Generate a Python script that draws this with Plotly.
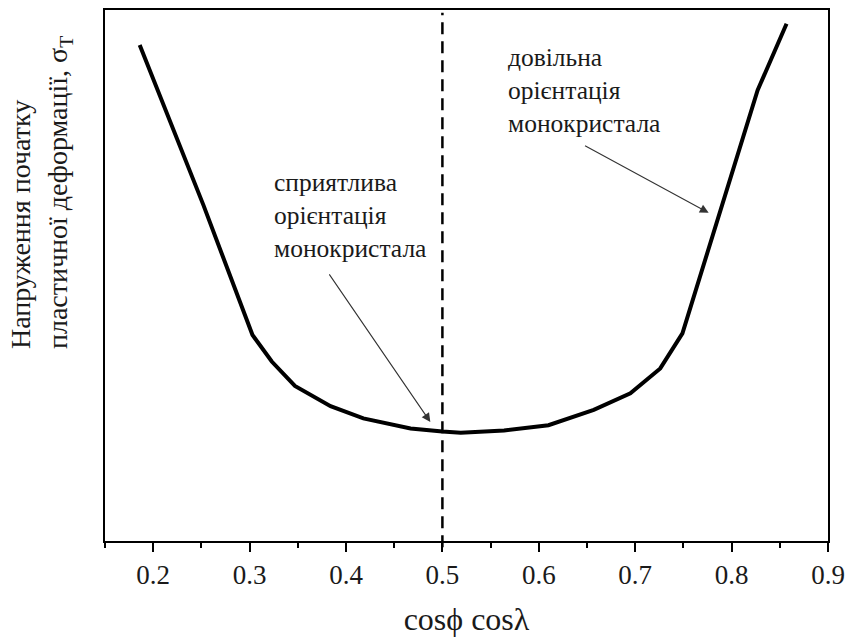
import plotly.graph_objects as go

# cosφ·cosλ (фактор Шміда) та напруження початку пластичної деформації (відн. од.)
schmid = [0.186, 0.252, 0.303, 0.323, 0.347, 0.384, 0.418, 0.467, 0.500,
          0.519, 0.564, 0.610, 0.657, 0.695, 0.726, 0.749, 0.827, 0.857]
sigma_t = [93.4, 63.3, 38.8, 33.8, 29.2, 25.4, 23.1, 21.2, 20.6,
           20.4, 20.8, 21.8, 24.7, 27.8, 32.5, 39.1, 84.9, 97.4]

x_ticks = [0.2, 0.3, 0.4, 0.5, 0.6, 0.7, 0.8, 0.9]
x_ticklabels = ["0.2", "0.3", "0.4", "0.5", "0.6", "0.7", "0.8", "0.9"]
x_mark = 0.5

FONT = "Liberation Serif"
INK = "#1a1a1a"

fig = go.Figure()

fig.add_trace(go.Scatter(
    x=schmid, y=sigma_t,
    mode="lines",
    line=dict(color="black", width=4),
    hoverinfo="skip",
    showlegend=False,
))

# вертикальна пунктирна лінія при cosφ cosλ = 0.5
fig.add_shape(
    type="line", xref="x", yref="paper",
    x0=x_mark, x1=x_mark, y0=-0.012, y1=0.995,
    line=dict(color="black", width=2.5, dash="12px,7px"),
)

ann_font = dict(family=FONT, size=25.5, color=INK)

fig.add_annotation(
    x=0.3234, y=61.3, xref="x", yref="y",
    text="сприятлива<br>орієнтація<br>монокристала",
    showarrow=False, xanchor="left", yanchor="middle", align="left",
    font=ann_font,
)
fig.add_annotation(
    x=0.4875, y=22.4, ax=0.3816, ay=50.5,
    xref="x", yref="y", axref="x", ayref="y",
    text="", showarrow=True, arrowhead=2, arrowsize=1.6,
    arrowwidth=1.1, arrowcolor="#333",
)

fig.add_annotation(
    x=0.5664, y=84.8, xref="x", yref="y",
    text="довільна<br>орієнтація<br>монокристала",
    showarrow=False, xanchor="left", yanchor="middle", align="left",
    font=ann_font,
)
fig.add_annotation(
    x=0.7762, y=61.8, ax=0.6464, ay=74.6,
    xref="x", yref="y", axref="x", ayref="y",
    text="", showarrow=True, arrowhead=2, arrowsize=1.6,
    arrowwidth=1.1, arrowcolor="#333",
)

# підпис осі Y (два рядки, вирівняні за початком)
fig.add_annotation(
    x=-0.089, y=0.358, xref="paper", yref="paper",
    text="Напруження початку<br>пластичної деформації, σ<sub>T</sub>",
    textangle=-90, showarrow=False,
    xanchor="center", yanchor="bottom", align="left",
    font=dict(family=FONT, size=28, color=INK),
)

fig.update_layout(
    width=847, height=639,
    margin=dict(l=105, r=19, t=10, b=98, autoexpand=False),
    paper_bgcolor="white", plot_bgcolor="white",
    font=dict(family=FONT, color=INK),
    xaxis=dict(
        range=[0.15, 0.9],
        automargin=False,
        tickvals=x_ticks, ticktext=x_ticklabels,
        ticks="outside", ticklen=9, tickwidth=2, tickcolor="black",
        minor=dict(dtick=0.05, ticks="outside", ticklen=5, tickwidth=2,
                   tickcolor="black", showgrid=False),
        showline=True, linecolor="black", linewidth=2, mirror=True,
        showgrid=False, zeroline=False,
        tickfont=dict(family=FONT, size=27, color=INK),
        title=dict(text="cosϕ cosλ", font=dict(family=FONT, size=32, color=INK),
                   standoff=18),
    ),
    yaxis=dict(
        range=[0, 100],
        automargin=False,
        showticklabels=False, ticks="",
        showline=True, linecolor="black", linewidth=2, mirror=True,
        showgrid=False, zeroline=False,
    ),
)

fig.write_html(
    "out.html",
    config={"displayModeBar": False},
    post_script="document.body.style.margin='0';document.body.style.overflow='hidden';",
)
